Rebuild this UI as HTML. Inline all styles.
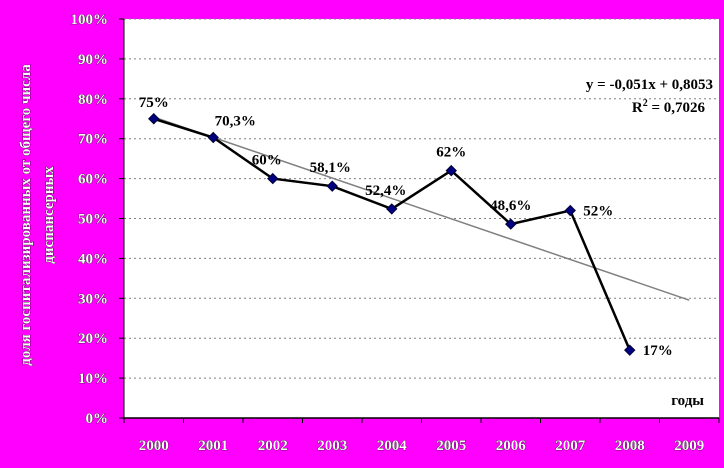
<!DOCTYPE html>
<html><head><meta charset="utf-8"><style>
body{margin:0;background:#ff00ff;width:724px;height:468px;overflow:hidden}
svg{display:block}
.ax{font-family:"Liberation Serif",serif;font-weight:bold;font-size:15px;fill:#fff;stroke:#000;stroke-width:0.6;paint-order:stroke}
.lbl{font-family:"Liberation Serif",serif;font-weight:bold;font-size:15px;fill:#000}
</style></head><body>
<svg id="c" width="724" height="468">
<rect x="0" y="0" width="724" height="468" fill="#ff00ff"/>
<rect x="124" y="19" width="595" height="399" fill="#fff"/>
<g id="grid"></g><g id="yticks"></g><g id="xticks"></g><g id="series"></g>
<text x="20" y="215" class="ax" transform="rotate(-90 25 215)" text-anchor="middle"><tspan x="25" y="220">доля госпитализированных от общего числа</tspan><tspan x="25" y="243">диспансерных</tspan></text>
<text x="704" y="405" class="lbl" text-anchor="end">годы</text>
<text x="713" y="89" class="lbl" font-size="14" font-weight="normal" text-anchor="end">y = -0,051x + 0,8053</text>
<text x="705" y="112" class="lbl" text-anchor="end">R<tspan dy="-6" font-size="10">2</tspan><tspan dy="6"> = 0,7026</tspan></text>
</svg>
<script>
const categories=["2000","2001","2002","2003","2004","2005","2006","2007","2008","2009"];
const values=[75,70.3,60,58.1,52.4,62,48.6,52,17];
const valueLabels=["75%","70,3%","60%","58,1%","52,4%","62%","48,6%","52%","17%"];
const yTicks=[0,10,20,30,40,50,60,70,80,90,100];
const trendSlope=-0.051, trendIntercept=0.8053;
const NS="http://www.w3.org/2000/svg";
const L=124,R=719,T=19,B=418;
const band=(R-L)/categories.length;
const xS=i=>L+band*(i+0.5);
const yS=v=>B-(v/100)*(B-T);
function mk(tag,attrs,parent){const e=document.createElementNS(NS,tag);for(const k in attrs)e.setAttribute(k,attrs[k]);document.getElementById(parent).appendChild(e);return e;}
yTicks.forEach(t=>{const y=yS(t);
 if(t>0){const g=mk('line',{x1:L,x2:R,y1:y,y2:y,stroke:'#808080','stroke-dasharray':'2,3'},'grid');
 
 }
 const tk=mk('line',{x1:L-5,x2:L,y1:y,y2:y,stroke:'#000'},'yticks');
 
 
 const tx=mk('text',{x:L-16,y:y+5,'text-anchor':'end',class:'ax'},'yticks');tx.textContent=t+'%';
 
 
});
const ax=mk('line',{x1:L,x2:L,y1:T,y2:B,stroke:'#000'},'yticks');


const bx=mk('line',{x1:L,x2:R,y1:B,y2:B,stroke:'#000','stroke-width':1.5},'xticks');


for(let i=0;i<=categories.length;i++){const x=L+band*i;const t=mk('line',{x1:x,x2:x,y1:B,y2:B+5,stroke:'#000'},'xticks');
 
 }
categories.forEach((c,i)=>{const t=mk('text',{x:xS(i),y:450,'text-anchor':'middle',class:'ax'},'xticks');t.textContent=c;
 
 });
const tr=mk('line',{x1:xS(0),y1:yS((trendIntercept+trendSlope*1)*100),x2:xS(9),y2:yS((trendIntercept+trendSlope*10)*100),stroke:'#808080','stroke-width':1.5},'series');


const pl=mk('polyline',{points:values.map((v,i)=>xS(i)+','+yS(v)).join(' '),fill:'none',stroke:'#000','stroke-width':2.5},'series');


const off=[[0,-12],[22,-12],[-6,-14],[-2,-14],[-6,-14],[0,-14],[0,-14],[28,5],[28,5]];
values.forEach((v,i)=>{const x=xS(i),y=yS(v);
 const p=mk('polygon',{points:`${x},${y-5} ${x+5},${y} ${x},${y+5} ${x-5},${y}`,fill:'#000080',stroke:'#000033'},'series');
 
 
 const t=mk('text',{x:x+off[i][0],y:y+off[i][1],'text-anchor':'middle',class:'lbl'},'series');t.textContent=valueLabels[i];
 
 
});
</script>
</body></html>
